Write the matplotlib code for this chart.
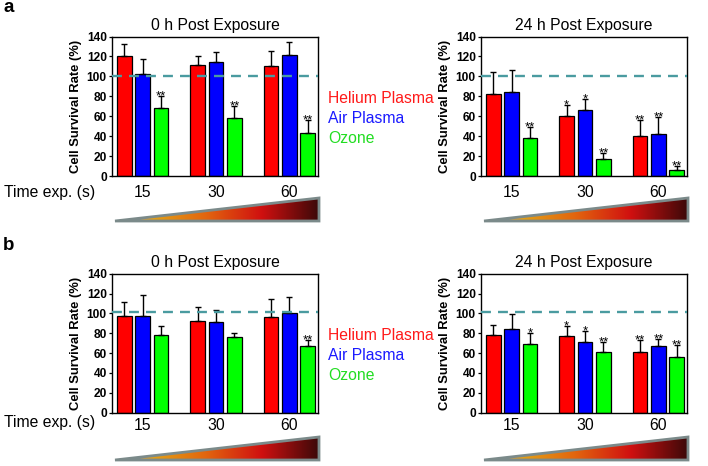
import numpy as np
import matplotlib
matplotlib.use("Agg")
import matplotlib.pyplot as plt
from matplotlib.colors import LinearSegmentedColormap
from matplotlib.patches import Polygon

plt.rcParams['font.family'] = ['Liberation Sans', 'DejaVu Sans']

# ---------------- data ----------------
groups = ['15', '30', '60']
series = ['Helium Plasma', 'Air Plasma', 'Ozone']

# panel a, 0 h
a0_helium = [120, 111.5, 110]
a0_air = [102, 114, 121.5]
a0_ozone = [68.5, 58, 43]
a0_helium_err = [12, 9, 15]
a0_air_err = [15.5, 10, 12.5]
a0_ozone_err = [12, 12, 13.5]
a0_helium_sig = ['', '', '']
a0_air_sig = ['', '', '']
a0_ozone_sig = ['**', '**', '**']

# panel a, 24 h
a24_helium = [82.5, 60.5, 40]
a24_air = [84, 66, 42]
a24_ozone = [38, 17, 6.5]
a24_helium_err = [21.5, 10.5, 16.5]
a24_air_err = [22, 11, 17.5]
a24_ozone_err = [11, 6.5, 4]
a24_helium_sig = ['', '*', '**']
a24_air_sig = ['', '*', '**']
a24_ozone_sig = ['**', '**', '**']

# panel b, 0 h
b0_helium = [97, 92.5, 96]
b0_air = [97.5, 91.5, 100.5]
b0_ozone = [78, 76, 67]
b0_helium_err = [14.5, 14, 18]
b0_air_err = [21.5, 11.5, 15.5]
b0_ozone_err = [9, 4, 6.5]
b0_helium_sig = ['', '', '']
b0_air_sig = ['', '', '']
b0_ozone_sig = ['', '', '**']

# panel b, 24 h
b24_helium = [78, 77, 61.5]
b24_air = [84, 71.5, 67.5]
b24_ozone = [69, 61.5, 56]
b24_helium_err = [10, 10, 11.5]
b24_air_err = [15, 10.5, 7]
b24_ozone_err = [11, 10, 12.5]
b24_helium_sig = ['', '*', '**']
b24_air_sig = ['', '*', '**']
b24_ozone_sig = ['*', '**', '**']

control_a = 100
control_b = 101

yticks = [0, 20, 40, 60, 80, 100, 120, 140]
titles = ['0 h Post Exposure', '24 h Post Exposure']

# ---------------- style ----------------
colors = ['#ff0000', '#0000ff', '#00ff00']
text_colors = ['#ff1a1a', '#1a1aff', '#22dd22']
dash_color = '#4a9ba0'

W, H = 708, 466
fig = plt.figure(figsize=(W / 100, H / 100), dpi=100)


def fx(x):
    return x / W


def fy(y):
    return 1 - y / H


def add_ax(x0, y0, x1, y1):
    return fig.add_axes([fx(x0), fy(y1), fx(x1) - fx(x0), (y1 - y0) / H])


def bar_panel(ax, vals, errs, sigs, title, control, pad):
    x = np.arange(len(groups))
    width = 0.2
    offs = [-0.25, 0, 0.25]
    for v, e, s, c, o in zip(vals, errs, sigs, colors, offs):
        ax.bar(x + o, v, width, color=c, edgecolor='black', linewidth=0.9, zorder=2)
        ax.errorbar(x + o, v, yerr=[np.zeros(len(v)), e], fmt='none',
                    ecolor='black', elinewidth=1.0, capsize=2.4, capthick=1.0, zorder=3)
        for xi, vi, ei, si in zip(x + o, v, e, s):
            if si:
                ax.annotate(si, (xi, vi + ei), xytext=(0, -2.6), textcoords='offset points',
                            ha='center', va='baseline', fontsize=9.5, color='black')
    ax.axhline(control, color=dash_color, lw=1.7, dashes=(4.2, 3.0), zorder=4)
    ax.set_xlim(-0.42, 2.39)
    ax.set_ylim(0, 140)
    ax.set_yticks(yticks)
    ax.set_yticklabels([str(t) for t in yticks], fontweight='bold', fontsize=8.6)
    ax.set_xticks(x)
    ax.set_xticklabels(groups, fontsize=11.3)
    ax.tick_params(axis='x', length=0, pad=pad)
    ax.tick_params(axis='y', length=2.5, width=0.9, pad=1.2, direction='out')
    for sp in ax.spines.values():
        sp.set_linewidth(1.0)
    ax.set_ylabel('Cell Survival Rate (%)', fontweight='bold', fontsize=9.4)
    ax.yaxis.set_label_coords(-0.145, 0.5)
    ax.set_title(title, fontsize=11.3, pad=5)


cmap = LinearSegmentedColormap.from_list(
    'ramp', [(0.0, '#bcae96'), (0.2, '#e49d14'), (0.45, '#e2640e'),
             (0.72, '#d01010'), (1.0, '#3c0909')])


def triangle(x0, y0, x1, y1):
    tax = add_ax(x0, y0, x1, y1)
    tax.set_xlim(0, 1)
    tax.set_ylim(0, 1)
    tax.axis('off')
    grad = np.linspace(0, 1, 256).reshape(1, -1)
    im = tax.imshow(grad, extent=(0, 1, 0, 1), aspect='auto', cmap=cmap, origin='lower')
    poly = Polygon([(0, 0), (1, 0), (1, 1)], closed=True, transform=tax.transData)
    im.set_clip_path(poly)
    tax.add_patch(Polygon([(0, 0), (1, 0), (1, 1)], closed=True, fill=False,
                          edgecolor='#7b8a8a', lw=2.0, clip_on=False, joinstyle='miter'))


# ---------------- panels ----------------
rows = [
    dict(y0=36.5, y1=176, pad=6.5, tri=(198, 221), control=control_a,
         left=([a0_helium, a0_air, a0_ozone], [a0_helium_err, a0_air_err, a0_ozone_err],
               [a0_helium_sig, a0_air_sig, a0_ozone_sig]),
         right=([a24_helium, a24_air, a24_ozone], [a24_helium_err, a24_air_err, a24_ozone_err],
                [a24_helium_sig, a24_air_sig, a24_ozone_sig]),
         letter='a', letter_y=8, time_y=192),
    dict(y0=273.7, y1=412.5, pad=4.0, tri=(437, 460), control=control_b,
         left=([b0_helium, b0_air, b0_ozone], [b0_helium_err, b0_air_err, b0_ozone_err],
               [b0_helium_sig, b0_air_sig, b0_ozone_sig]),
         right=([b24_helium, b24_air, b24_ozone], [b24_helium_err, b24_air_err, b24_ozone_err],
                [b24_helium_sig, b24_air_sig, b24_ozone_sig]),
         letter='b', letter_y=246, time_y=422),
]

for r in rows:
    axl = add_ax(112, r['y0'], 318, r['y1'])
    bar_panel(axl, *r['left'], titles[0], r['control'], r['pad'])
    axr = add_ax(481, r['y0'], 687, r['y1'])
    bar_panel(axr, *r['right'], titles[1], r['control'], r['pad'])
    triangle(115, r['tri'][0], 319, r['tri'][1])
    triangle(484, r['tri'][0], 688, r['tri'][1])
    fig.text(fx(3), fy(r['letter_y']), r['letter'], fontsize=13.5, fontweight='bold',
             ha='left', va='center')
    fig.text(fx(4), fy(r['time_y']), 'Time exp. (s)', fontsize=11.3, ha='left', va='center')
    for i, (name, c) in enumerate(zip(series, text_colors)):
        fig.text(fx(328), fy(r['y0'] + 62 + 20 * i), name, color=c, fontsize=11.3,
                 ha='left', va='center')

fig.savefig('out.png', dpi=100)
